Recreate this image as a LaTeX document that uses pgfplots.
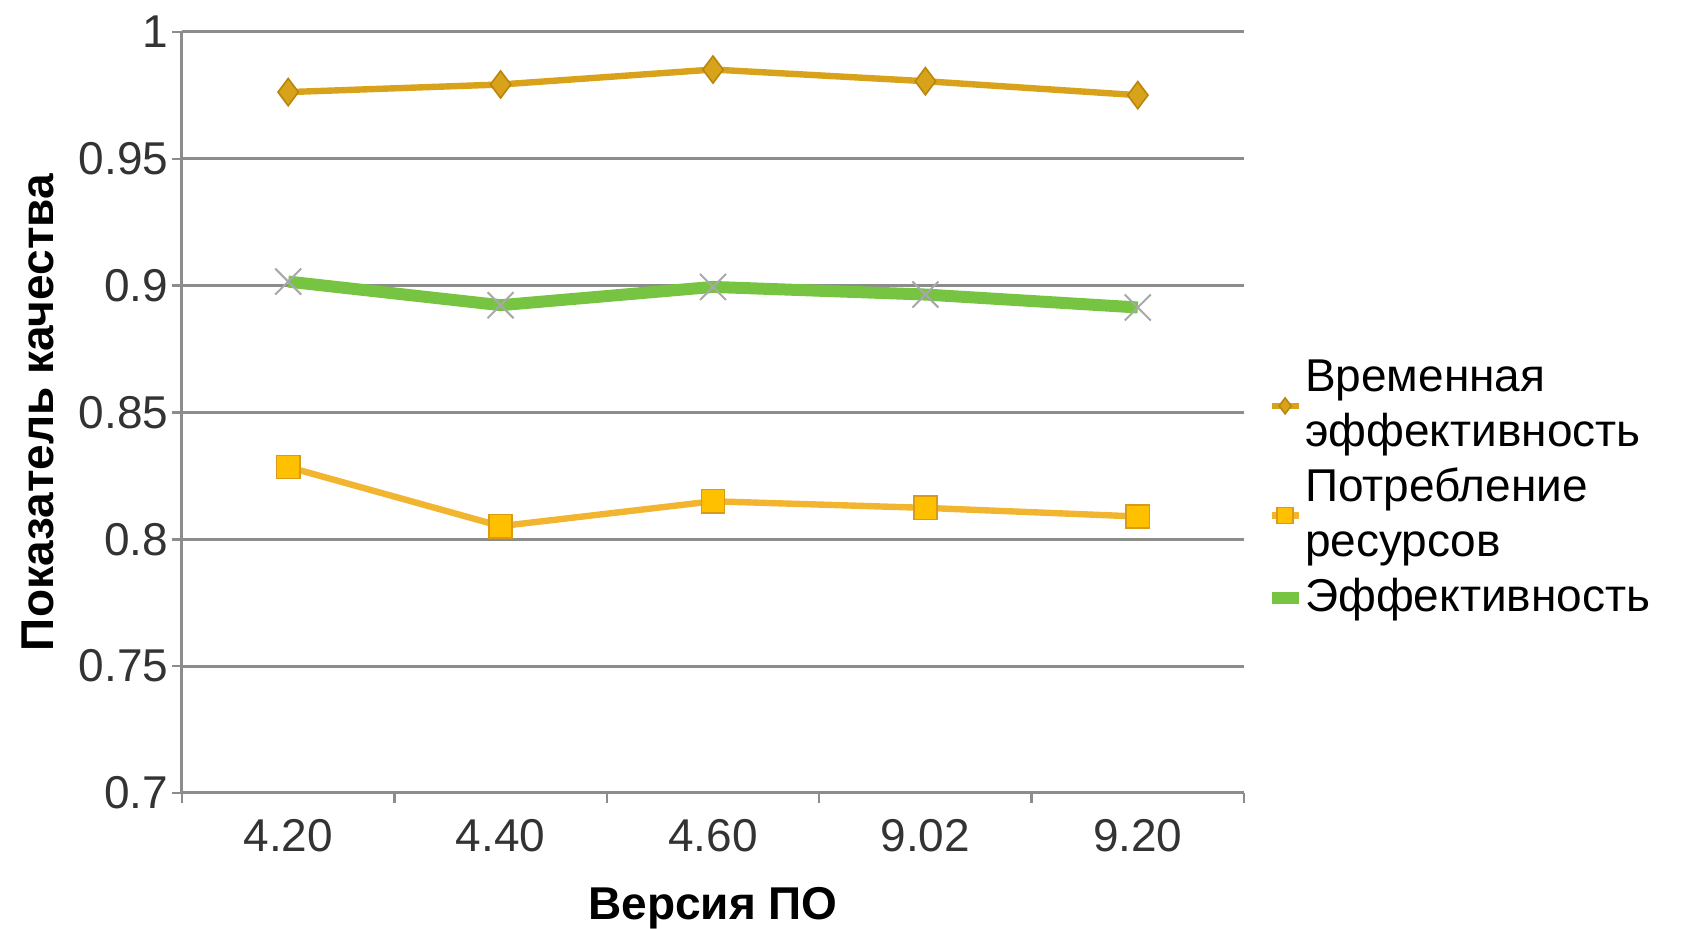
\documentclass[border=0pt]{standalone}
\usepackage{fontspec}
\setmainfont{Liberation Sans}
\usepackage{pgfplots}
\pgfplotsset{compat=1.18}
\definecolor{timec}{HTML}{D9A21B}
\definecolor{timed}{HTML}{B8860B}
\definecolor{resc}{HTML}{FFC000}
\definecolor{resl}{HTML}{F2B530}
\definecolor{resd}{HTML}{D99A1A}
\definecolor{effc}{HTML}{77C442}
\definecolor{crossc}{HTML}{A8A8A8}
\definecolor{gridc}{HTML}{8C8C8C}
\newcommand{\fs}{\fontsize{11.5}{13.7}\selectfont}
\begin{document}
\begin{tikzpicture}
\useasboundingbox (-45.5pt,-34pt) rectangle (374.75pt,198.25pt);
\begin{axis}[
  at={(0,0)}, anchor=south west, scale only axis,
  width=265.5pt, height=190.25pt,
  xmin=-0.5, xmax=4.5, ymin=0.7, ymax=1,
  axis lines=left, axis line style={-, gridc, line width=0.75pt},
  tick align=outside, major tick length=2.5pt,
  tick style={gridc, line width=0.6pt},
  xtick={-0.5,0.5,1.5,2.5,3.5,4.5}, xticklabels={},
  extra x ticks={0,1,2,3,4},
  extra x tick labels={4.20,4.40,4.60,9.02,9.20},
  extra x tick style={major tick length=0pt, grid=none},
  ytick={0.7,0.75,0.8,0.85,0.9,0.95,1},
  yticklabels={0.7,0.75,0.8,0.85,0.9,0.95,1},
  ymajorgrids, grid style={gridc, line width=0.75pt},
  tick label style={font=\fs, text=black!80},
  xticklabel style={yshift=-3pt},
  yticklabel style={xshift=2.6pt},
  xlabel={\bfseries Версия ПО},
  ylabel={\bfseries Показатель качества},
  xlabel style={at={(axis description cs:0.5,0)}, anchor=base, yshift=-31.75pt, inner sep=0pt, font=\fs},
  ylabel style={at={(axis description cs:0,0.5)}, anchor=base, yshift=32pt, inner sep=0pt, font=\fs},
  legend style={at={(axis description cs:1.0195,0.581)}, anchor=north west, draw=none, fill=none,
    inner sep=0pt, row sep=0pt, column sep=-1.9pt, font=\fs, cells={align=left}},
  legend cell align=left,
  legend image code/.code={\draw[#1, mark size=2pt, mark repeat=2, mark phase=2] plot coordinates {(0pt,0pt) (3.4pt,0pt) (6.8pt,0pt)};},
]
\addplot[timec, line width=1.6pt, mark=diamond*, mark size=3.4pt,
  mark options={fill=timec, draw=timed, line width=0.4pt}]
  coordinates {(0,0.9763) (1,0.9793) (2,0.9852) (3,0.9806) (4,0.9751)};
\addlegendentry{Временная\\эффективность}
\addplot[resl, line width=1.6pt, mark=square*, mark size=2.9pt,
  mark options={fill=resc, draw=resd, line width=0.4pt}]
  coordinates {(0,0.8285) (1,0.8052) (2,0.8150) (3,0.8124) (4,0.8090)};
\addlegendentry{Потребление\\ресурсов}
\addplot[forget plot, only marks, mark=x, mark size=4.6pt, mark options={crossc, line width=0.5pt}]
  coordinates {(0,0.9016) (1,0.8923) (2,0.8995) (3,0.8965) (4,0.8914)};
\addplot[effc, line width=3pt, no marks]
  coordinates {(0,0.9016) (1,0.8923) (2,0.8995) (3,0.8965) (4,0.8914)};
\addlegendentry{Эффективность}
\end{axis}
\end{tikzpicture}
\end{document}
